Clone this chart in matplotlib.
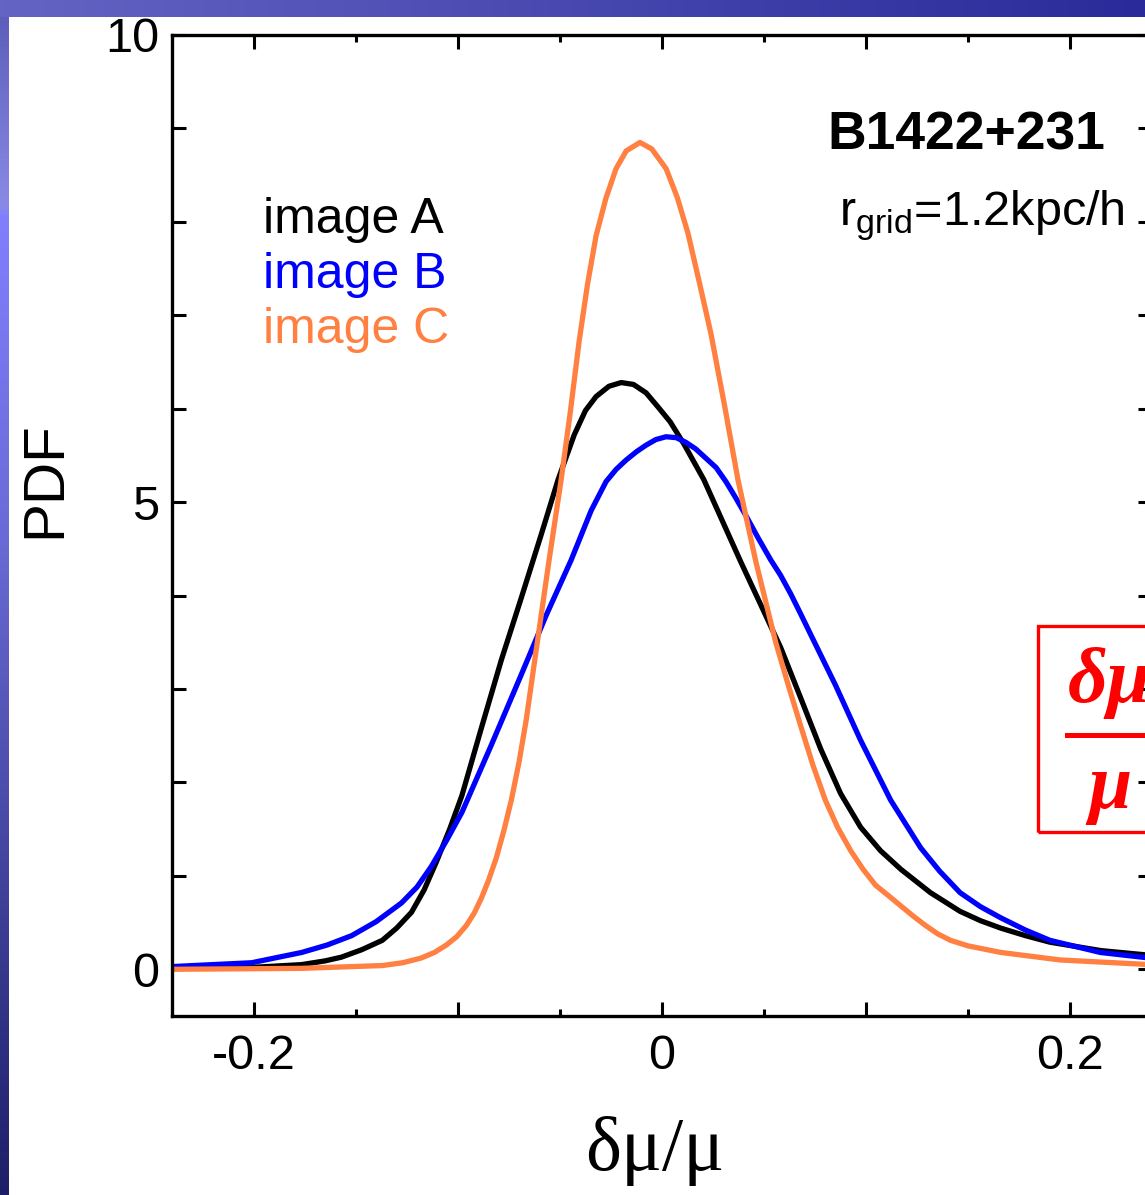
import numpy as np
import matplotlib
matplotlib.use('Agg')
import matplotlib.pyplot as plt
from matplotlib.patches import Rectangle
from matplotlib.lines import Line2D
from matplotlib.colors import LinearSegmentedColormap
from matplotlib.ticker import FixedLocator, FuncFormatter

plt.rcParams['font.family'] = ['Liberation Sans', 'DejaVu Sans']
plt.rcParams['axes.unicode_minus'] = False
plt.rcParams['mathtext.fontset'] = 'custom'
plt.rcParams['mathtext.rm'] = 'Liberation Sans'

# image A (black)
xa = [-0.239, -0.201, -0.1765, -0.165, -0.157, -0.147, -0.137, -0.13, -0.1227,
      -0.1165, -0.1105, -0.104, -0.098, -0.0885, -0.0787, -0.069, -0.0592, -0.0509,
      -0.043, -0.0375, -0.0323, -0.026, -0.020, -0.014, -0.0078, -0.002, 0.004,
      0.0108, 0.0205, 0.0386, 0.0582, 0.068, 0.0777, 0.0875, 0.0973, 0.107, 0.117,
      0.1315, 0.146, 0.156, 0.166, 0.178, 0.19, 0.215, 0.239]
ya = [0.01, 0.02, 0.05, 0.09, 0.13, 0.21, 0.31, 0.44, 0.61,
      0.85, 1.15, 1.50, 1.86, 2.58, 3.31, 3.97, 4.65, 5.24,
      5.72, 5.98, 6.13, 6.24, 6.28, 6.26, 6.17, 6.02, 5.86,
      5.62, 5.24, 4.36, 3.44, 2.90, 2.36, 1.88, 1.52, 1.27, 1.07,
      0.82, 0.62, 0.52, 0.44, 0.36, 0.29, 0.20, 0.15]

# image B (blue)
xb = [-0.239, -0.22, -0.201, -0.1765, -0.164, -0.152, -0.14, -0.1276, -0.12,
      -0.113, -0.1055, -0.098, -0.0836, -0.069, -0.0567, -0.0445, -0.0347, -0.0274,
      -0.0225, -0.0176, -0.0125, -0.0078, -0.003, 0.002, 0.007, 0.0117, 0.0165,
      0.0215, 0.0265, 0.0313, 0.036, 0.041, 0.047, 0.0533, 0.058, 0.063, 0.068,
      0.0729, 0.085, 0.0973, 0.112, 0.1267, 0.136, 0.146, 0.156, 0.166, 0.178,
      0.19, 0.2147, 0.239]
yb = [0.03, 0.05, 0.07, 0.18, 0.26, 0.36, 0.51, 0.71, 0.88,
      1.10, 1.38, 1.68, 2.40, 3.15, 3.79, 4.38, 4.91, 5.22,
      5.35, 5.45, 5.54, 5.61, 5.67, 5.70, 5.69, 5.64, 5.57,
      5.47, 5.37, 5.22, 5.05, 4.86, 4.62, 4.38, 4.22, 4.02, 3.80,
      3.58, 3.04, 2.45, 1.81, 1.30, 1.05, 0.82, 0.67, 0.55, 0.42,
      0.31, 0.18, 0.12]

# image C (orange)
xc = [-0.239, -0.1765, -0.137, -0.127, -0.118, -0.1115, -0.1056, -0.1005, -0.0958,
      -0.092, -0.0885, -0.085, -0.0812, -0.0775, -0.0738, -0.07, -0.0665, -0.0616,
      -0.0553, -0.0494, -0.045, -0.0406, -0.0365, -0.0323, -0.0275, -0.0225, -0.0175,
      -0.0108, -0.005, 0.002, 0.0075, 0.0127, 0.018, 0.024, 0.0305, 0.0372, 0.046,
      0.0557, 0.062, 0.068, 0.074, 0.080, 0.086, 0.0924, 0.0985, 0.1046, 0.1108,
      0.1169, 0.123, 0.129, 0.135, 0.1413, 0.15, 0.166, 0.195, 0.239]
yc = [0.0, 0.01, 0.04, 0.07, 0.12, 0.18, 0.26, 0.35, 0.47,
      0.60, 0.76, 0.95, 1.19, 1.48, 1.81, 2.22, 2.67, 3.42,
      4.38, 5.24, 5.95, 6.72, 7.33, 7.85, 8.25, 8.57, 8.76,
      8.85, 8.78, 8.57, 8.26, 7.88, 7.38, 6.80, 6.05, 5.24, 4.36,
      3.50, 3.03, 2.60, 2.18, 1.81, 1.52, 1.27, 1.07, 0.90, 0.79,
      0.68, 0.57, 0.47, 0.38, 0.31, 0.25, 0.18, 0.10, 0.05]

labels = ['image A', 'image B', 'image C']
colors = ['black', '#0000FF', '#FF8040']

W, H = 1145, 1195
def fx(p):
    return p / W
def fy(p):
    return 1 - p / H

fig = plt.figure(figsize=(W / 100, H / 100), dpi=100)
fig.patch.set_facecolor('white')

# slide background strips
grad = np.linspace(0, 1, 256)
left = fig.add_axes([0, 0, 9 / W, 1])
cm_left = LinearSegmentedColormap.from_list('l', [(0, '#5a5ab8'), (0.17, '#8a8ae6'),
                                                  (0.18, '#8080ff'), (0.45, '#6a6ad6'),
                                                  (1, '#1e1e68')])
left.imshow(grad[:, None], aspect='auto', cmap=cm_left, extent=[0, 1, 1, 0])
left.axis('off')
top = fig.add_axes([0, 1 - 17 / H, 1, 17 / H])
cm_top = LinearSegmentedColormap.from_list('t', ['#6464c4', '#4848b0', '#2a2a9a'])
top.imshow(grad[None, :], aspect='auto', cmap=cm_top)
top.axis('off')

ax = fig.add_axes([fx(172), fy(1016), (1152 - 172) / W, (1016 - 35) / H])
for x, y, c in zip([xa, xb, xc], [ya, yb, yc], colors):
    ax.plot(x, y, color=c, lw=3.8, solid_joinstyle='round', solid_capstyle='butt')

ax.set_xlim(-0.24, 0.24)
ax.set_ylim(-0.5, 10)
ax.xaxis.set_major_locator(FixedLocator([-0.2, -0.1, 0, 0.1, 0.2]))
ax.xaxis.set_minor_locator(FixedLocator([-0.15, -0.05, 0.05, 0.15]))
ax.xaxis.set_major_formatter(FuncFormatter(
    lambda v, p: {-0.2: '-0.2', 0.0: '0', 0.2: '0.2'}.get(round(v, 2), '')))
ax.yaxis.set_major_locator(FixedLocator([0, 5, 10]))
ax.yaxis.set_minor_locator(FixedLocator([1, 2, 3, 4, 6, 7, 8, 9]))
ax.yaxis.set_major_formatter(FuncFormatter(lambda v, p: '%d' % v))
ax.tick_params(axis='both', which='both', direction='in', top=True, right=True,
               width=2.2, labelsize=35)
ax.tick_params(axis='x', which='major', length=10, pad=13)
ax.tick_params(axis='x', which='minor', length=5)
ax.tick_params(axis='y', which='both', length=10, pad=9)
for s in ax.spines.values():
    s.set_linewidth(2.4)

fig.text(fx(45), fy(480), 'PDF', rotation=90, fontsize=42, ha='center', va='center')
fig.text(fx(655), fy(1170), 'δμ/μ', fontsize=55, family='Liberation Serif',
         ha='center', va='baseline')

for i, (lab, c) in enumerate(zip(labels, colors)):
    fig.text(fx(263), fy(233 + 55 * i), lab, color=c, fontsize=36, va='baseline')

fig.text(fx(1105), fy(150), 'B1422+231', fontsize=38.5, fontweight='bold',
         ha='right', va='baseline')
fig.text(fx(1125), fy(226), r'r$_{\rm grid}$=1.2kpc/h', fontsize=35,
         ha='right', va='baseline')

# red boxed fraction at the right edge
fig.patches.append(Rectangle((fx(1038), fy(832)), fx(200), (832 - 626) / H,
                             transform=fig.transFigure, fill=False,
                             edgecolor='#FF0000', lw=2.4))
fig.lines.append(Line2D([fx(1067), fx(1200)], [fy(735), fy(735)],
                        transform=fig.transFigure, color='#FF0000', lw=3.6))
fig.text(fx(1068), fy(702), 'δμ', fontsize=56, family='Liberation Serif',
         fontweight='bold', style='italic', color='#FF0000', va='baseline')
fig.text(fx(1088), fy(808), 'μ', fontsize=56, family='Liberation Serif',
         fontweight='bold', style='italic', color='#FF0000', va='baseline')

plt.savefig('out.png', dpi=100)
